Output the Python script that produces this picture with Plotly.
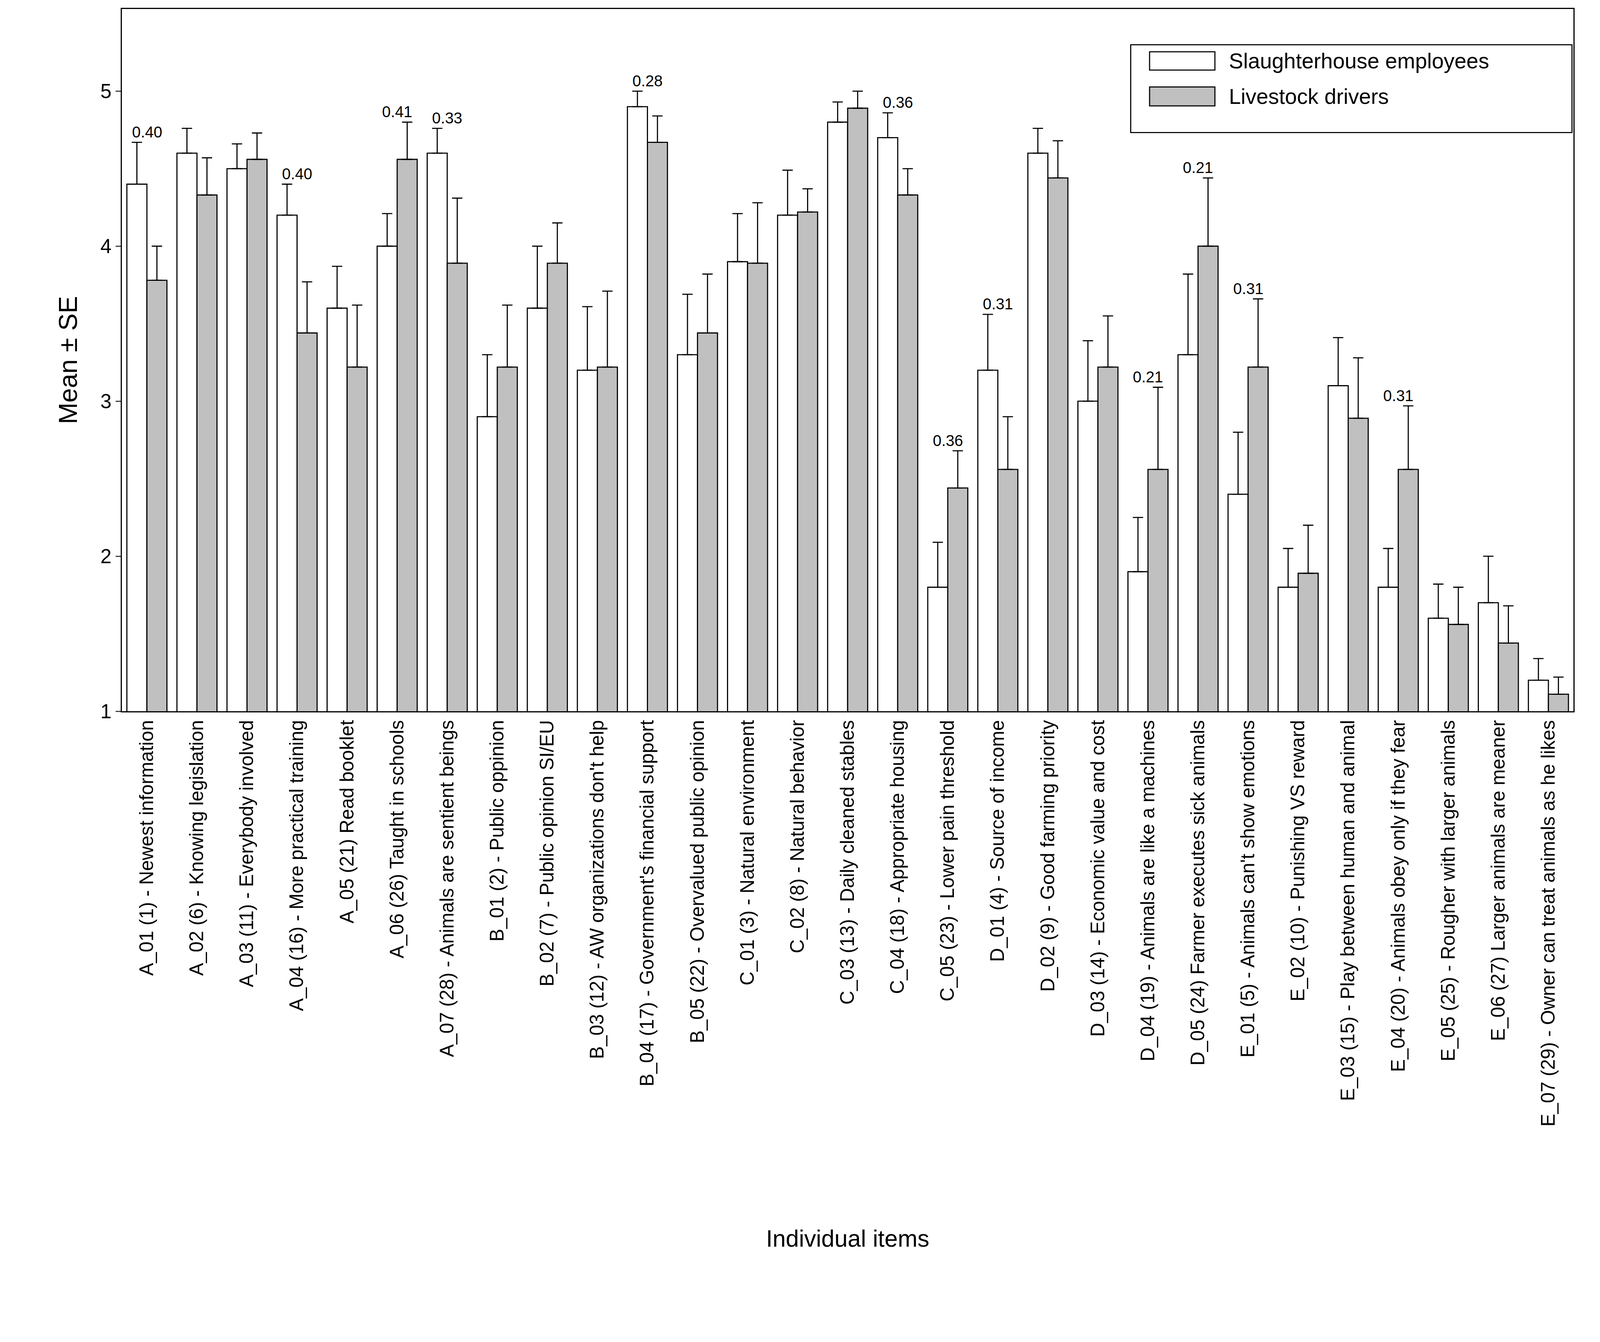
import plotly.graph_objects as go

items = ["A_01 (1) - Newest information","A_02 (6) - Knowing legislation","A_03 (11) - Everybody involved",
"A_04 (16) - More practical training","A_05 (21) Read booklet","A_06 (26) Taught in schools",
"A_07 (28) - Animals are sentient beings","B_01 (2) - Public oppinion","B_02 (7) - Public opinion SI/EU",
"B_03 (12) - AW organizations don't help","B_04 (17) - Government's financial support",
"B_05 (22) - Overvalued public opinion","C_01 (3) - Natural environment","C_02 (8) - Natural behavior",
"C_03 (13) - Daily cleaned stables","C_04 (18) - Appropriate housing","C_05 (23) - Lower pain threshold",
"D_01 (4) - Source of income","D_02 (9) - Good farming priority","D_03 (14) - Economic value and cost",
"D_04 (19) - Animals are like a machines","D_05 (24) Farmer executes sick animals",
"E_01 (5) - Animals can't show emotions","E_02 (10) - Punishing VS reward",
"E_03 (15) - Play between human and animal","E_04 (20) - Animals obey only if they fear",
"E_05 (25) - Rougher with larger animals","E_06 (27) Larger animals are meaner",
"E_07 (29) - Owner can treat animals as he likes"]
slaughter = [4.4,4.6,4.5,4.2,3.6,4.0,4.6,2.9,3.6,3.2,4.9,3.3,3.9,4.2,4.8,4.7,1.8,3.2,4.6,3.0,1.9,3.3,2.4,1.8,3.1,1.8,1.6,1.7,1.2]
slaughter_se = [0.27,0.16,0.16,0.2,0.27,0.21,0.16,0.4,0.4,0.41,0.1,0.39,0.31,0.29,0.13,0.16,0.29,0.36,0.16,0.39,0.35,0.52,0.4,0.25,0.31,0.25,0.22,0.3,0.14]
drivers = [3.78,4.33,4.56,3.44,3.22,4.56,3.89,3.22,3.89,3.22,4.67,3.44,3.89,4.22,4.89,4.33,2.44,2.56,4.44,3.22,2.56,4.0,3.22,1.89,2.89,2.56,1.56,1.44,1.11]
drivers_se = [0.22,0.24,0.17,0.33,0.4,0.24,0.42,0.4,0.26,0.49,0.17,0.38,0.39,0.15,0.11,0.17,0.24,0.34,0.24,0.33,0.53,0.44,0.44,0.31,0.39,0.41,0.24,0.24,0.11]
pvals = {0:"0.40",3:"0.40",5:"0.41",6:"0.33",10:"0.28",15:"0.36",16:"0.36",17:"0.31",20:"0.21",21:"0.21",22:"0.31",25:"0.31"}
series_names = ["Slaughterhouse employees", "Livestock drivers"]
series_colors = ["white", "#c0c0c0"]

S = 0.948
FONT = "Liberation Sans, Arial, sans-serif"
fig = go.Figure()
for name, vals, se, col in zip(series_names, [slaughter, drivers], [slaughter_se, drivers_se], series_colors):
    fig.add_trace(go.Bar(x=items, y=vals, name=name, showlegend=False,
        marker=dict(color=col, line=dict(color="black", width=3*S)),
        error_y=dict(type="data", array=se, arrayminus=[0]*len(se), symmetric=False, color="black",
                     thickness=3*S, width=14*S)))

for i, t in pvals.items():
    top = max(slaughter[i]+slaughter_se[i], drivers[i]+drivers_se[i])
    fig.add_annotation(x=items[i], y=top, text=t, showarrow=False, yshift=28*S,
                       font=dict(size=42*S, color="black", family=FONT))

# legend box drawn manually
fig.add_shape(type="rect", xref="paper", yref="paper", x0=0.695, x1=0.999, y0=0.824, y1=0.949,
              line=dict(color="black", width=3*S), fillcolor="white")
for (y0, y1), name, col in zip([(0.913, 0.939), (0.862, 0.889)], series_names, series_colors):
    fig.add_shape(type="rect", xref="paper", yref="paper", x0=0.708, x1=0.753, y0=y0, y1=y1,
                  line=dict(color="black", width=3*S), fillcolor=col)
    fig.add_annotation(xref="paper", yref="paper", x=0.762, y=(y0+y1)/2, text=name, showarrow=False,
                       xanchor="left", yanchor="middle", font=dict(size=58*S, color="black", family=FONT))

fig.add_annotation(xref="paper", yref="paper", x=0.5, y=-0.751, text="Individual items", showarrow=False,
                   xanchor="center", yanchor="middle", font=dict(size=64*S, color="black", family=FONT))

fig.update_layout(
    width=int(4304*S), height=int(3436*S), plot_bgcolor="white", paper_bgcolor="white",
    margin=dict(l=321*S, r=63*S, t=14*S, b=1523*S, pad=0),
    barmode="group", bargap=0.2, bargroupgap=0, showlegend=False,
    font=dict(family=FONT, color="black"),
    xaxis=dict(tickangle=-90, tickfont=dict(size=52*S), showline=True, linecolor="black", linewidth=3*S,
               mirror=True, ticks=""),
    yaxis=dict(range=[1, 5.53], tickvals=[1,2,3,4,5], tickfont=dict(size=54*S), showline=True, linecolor="black",
               linewidth=3*S, mirror=True, ticks="outside", ticklen=14*S, tickwidth=3*S, showgrid=False,
               zeroline=False, title=dict(text="Mean ± SE", font=dict(size=70*S), standoff=40*S)),
)
fig.write_html("out.html")
